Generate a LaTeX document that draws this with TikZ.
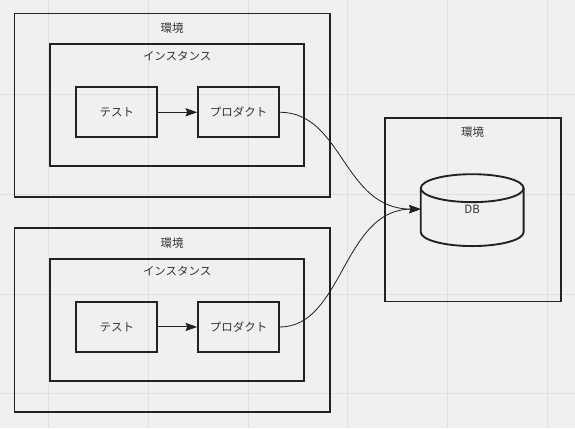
\documentclass[tikz,border=0pt]{standalone}
\usepackage{fontspec}
\setmainfont{Noto Sans CJK JP}
\usepackage{tikz}
\usetikzlibrary{calc}
\usetikzlibrary{arrows.meta}
\definecolor{bgcol}{HTML}{F0F0F0}
\definecolor{gridcol}{HTML}{E0E0E0}
\definecolor{edgecol}{HTML}{222222}
\definecolor{txtcol}{HTML}{333333}
\tikzset{>={Stealth[length=10pt, width=7pt, inset=1.5pt]}}

\begin{document}
\begin{tikzpicture}[x=0.03cm, y=-0.03cm,
    box/.style={draw=edgecol, line width=1.6pt, inner sep=0pt},
    envbox/.style={box, minimum width=9.48cm, minimum height=5.52cm},
    instbox/.style={box, minimum width=7.62cm, minimum height=3.66cm},
    procbox/.style={box, minimum width=2.43cm, minimum height=1.5cm,
        font=\fontsize{9.8}{12}\selectfont, text=txtcol},
    title/.style={inner sep=0pt, font=\fontsize{9.8}{12}\selectfont, text=txtcol},
    flow/.style={->, draw=edgecol, line width=0.8pt},
    link/.style={->, draw=edgecol, line width=0.7pt}]
    % background and grid
    \fill [bgcol] (0, 0) rectangle (575, 428);
    \foreach \gx in {48, 148, ..., 548}
        \draw [gridcol, line width=0.8pt] (\gx, 0) -- (\gx, 428);
    \foreach \gy in {94, 194, 294, 394}
        \draw [gridcol, line width=0.8pt] (0, \gy) -- (575, \gy);
    \useasboundingbox (0, 0) rectangle (575, 428);

    \begin{scope}
        \node [envbox] (env1) at (172, 105) {};
        \node [title] (env1t) at ($(env1.north)+(0, 16)$) {環境};
        \node [instbox] (inst1) at (177, 105) {};
        \node [title] (inst1t) at ($(inst1.north)+(0, 13)$) {インスタンス};
        \node [procbox] (test1) at (116.5, 112) {テスト};
        \node [procbox] (prod1) at (238.5, 112) {プロダクト};
        \draw [flow] (test1) -- (prod1);
    \end{scope}
    \begin{scope} [shift={(0, 215)}]
        \node [envbox] (env2) at (172, 105) {};
        \node [title] (env2t) at ($(env2.north)+(0, 16)$) {環境};
        \node [instbox] (inst2) at (177, 105) {};
        \node [title] (inst2t) at ($(inst2.north)+(0, 13)$) {インスタンス};
        \node [procbox] (test2) at (116.5, 112) {テスト};
        \node [procbox] (prod2) at (238.5, 112) {プロダクト};
        \draw [flow] (test2) -- (prod2);
    \end{scope}

    % database side
    \node [box, minimum width=5.28cm, minimum height=5.52cm] (env3) at (473, 209.5) {};
    \node [title] (env3t) at ($(env3.north)+(0, 15)$) {環境};
    \coordinate (dbc) at (472.5, 210);
    \draw [box] ($(dbc)+(-51.5, -22)$) -- ($(dbc)+(-51.5, 22)$)
        arc [start angle=180, end angle=360, x radius=1.545cm, y radius=0.42cm]
        -- ($(dbc)+(51.5, -22)$);
    \draw [box] ($(dbc)+(0, -22)$) ellipse [x radius=1.545cm, y radius=0.42cm];
    \node [title] (db) at (472.5, 209) {DB};
    \coordinate (dbin) at (421, 209);

    \draw [link] (prod1.east) .. controls +(63, 0) and +(-78, 0) .. (dbin);
    \draw [link] (prod2.east) .. controls +(63, 0) and +(-78, 0) .. (dbin);
\end{tikzpicture}
\end{document}
